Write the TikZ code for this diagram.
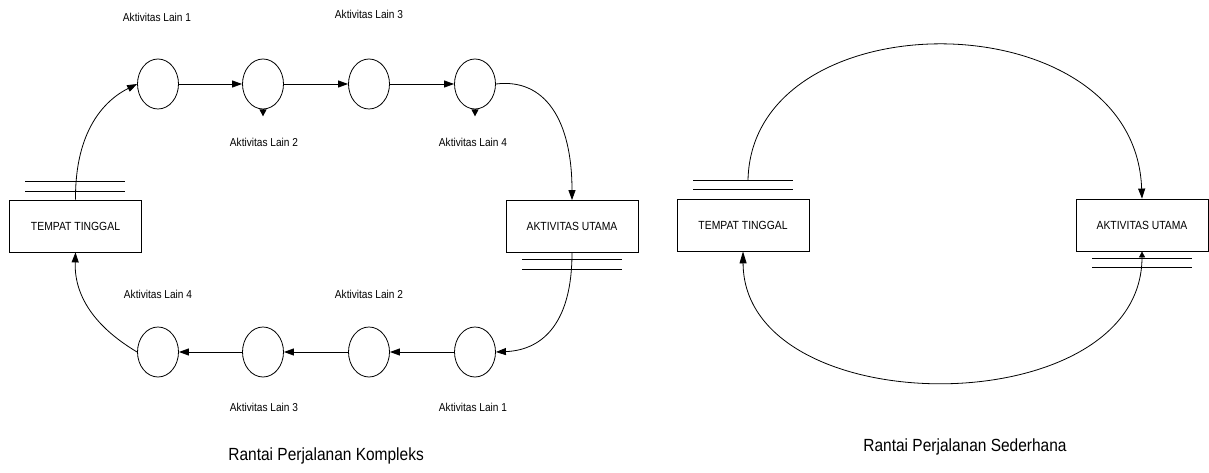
\documentclass[tikz,border=0pt]{standalone}
\usepackage{fontspec}
\setmainfont[FakeStretch=0.88]{Liberation Sans}
\usetikzlibrary{arrows.meta,shapes.geometric}
\begin{document}
\begin{tikzpicture}[x=1pt,y=-1pt,
  line width=0.8pt,
  box/.style={draw, minimum width=132pt, minimum height=52pt, inner sep=0pt, font=\fontsize{11.8}{14}\selectfont},
  act/.style={draw, ellipse, minimum width=41pt, minimum height=50pt, inner sep=0pt},
  lbl/.style={font=\fontsize{11.5}{13}\selectfont, inner sep=0pt},
  captxt/.style={font=\fontsize{17.6}{20}\selectfont, inner sep=0pt, anchor=base west},
  arr/.style={-{Triangle[length=10pt,width=7pt]}},
  stub/.style={-{Triangle[length=7pt,width=7pt]}}]
\useasboundingbox (0,0) rectangle (1209,473);

% ---------- complex chain ----------
\node[box] (tt1) at (75.5,226) {TEMPAT TINGGAL};
\node[box] (ua1) at (572,226.5) {AKTIVITAS UTAMA};

\node[act] (t1) at (158,84) {};
\node[act] (t2) at (263,84) {};
\node[act] (t3) at (369,84) {};
\node[act] (t4) at (475,84) {};
\node[act] (b1) at (158,352) {};
\node[act] (b2) at (263,352) {};
\node[act] (b3) at (369,352) {};
\node[act] (b4) at (475,352) {};

% store lines
\draw (25,181) -- (125,181);
\draw (25,191) -- (125,191);
\draw (522,259) -- (622,259);
\draw (522,269) -- (622,269);

\draw[arr] (tt1.north) .. controls (75,130) and (105,100) .. (t1.west);
\draw[arr] (t1.east) -- (t2.west);
\draw[arr] (t2.east) -- (t3.west);
\draw[arr] (t3.east) -- (t4.west);
\draw[arr] (t4.east) .. controls (545,78) and (572,120) .. (ua1.north);
\draw[arr] (ua1.south) .. controls (572,320) and (545,350) .. (b4.east);
\draw[arr] (b4.west) -- (b3.east);
\draw[arr] (b3.west) -- (b2.east);
\draw[arr] (b2.west) -- (b1.east);
\draw[arr] (b1.west) .. controls (100,330) and (74,300) .. (tt1.south);

\draw[stub] (t2.south) -- ++(0,7);
\draw[stub] (t4.south) -- ++(0,7);

\node[lbl] (l1) at (157,17.5) {Aktivitas Lain 1};
\node[lbl] (l3) at (369,14.5) {Aktivitas Lain 3};
\node[lbl] (l2) at (264,142.5) {Aktivitas Lain 2};
\node[lbl] (l4) at (473,142.5) {Aktivitas Lain 4};
\node[lbl] (m4) at (158,294) {Aktivitas Lain 4};
\node[lbl] (m2) at (369,294) {Aktivitas Lain 2};
\node[lbl] (m3) at (264,407.5) {Aktivitas Lain 3};
\node[lbl] (m1) at (473,407.5) {Aktivitas Lain 1};

\node[captxt] (c1) at (228,460) {Rantai Perjalanan Kompleks};

% ---------- simple chain ----------
\node[box] (tt2) at (743,225) {TEMPAT TINGGAL};
\node[box] (ua2) at (1142,225) {AKTIVITAS UTAMA};

\draw (693,180) -- (793,180);
\draw (693,189) -- (793,189);
\draw (1092,258) -- (1192,258);
\draw (1092,267) -- (1192,267);

\coordinate (tt2top) at (748,180);
\draw[arr] (tt2top) .. controls (752,-3) and (1135,-3) .. (ua2.north);
\draw[{Triangle[length=6pt,width=6pt]}-{Triangle[length=12pt,width=7pt]}] (ua2.south) .. controls (1142,425) and (744,425) .. (tt2.south);

\node[captxt] (c2) at (863,451) {Rantai Perjalanan Sederhana};
\end{tikzpicture}
\end{document}
